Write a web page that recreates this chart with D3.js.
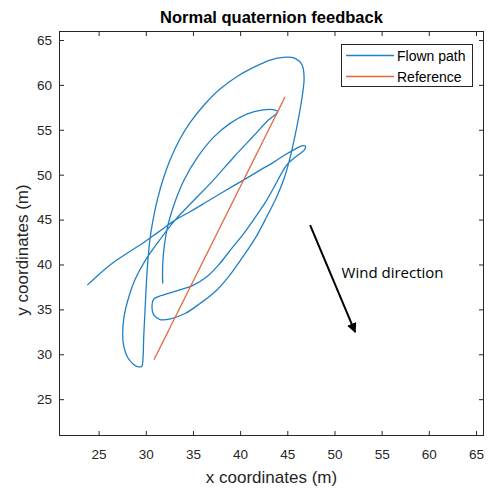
<!DOCTYPE html>
<html><head><meta charset="utf-8">
<script src="https://cdn.jsdelivr.net/npm/d3@7"></script>
<style>body{margin:0;background:#fff}svg{display:block}</style>
</head><body><svg id="c" width="492" height="489"></svg>
<script>
const title = "Normal quaternion feedback";
const xLabel = "x coordinates (m)";
const yLabel = "y coordinates (m)";
const xTicks = [25,30,35,40,45,50,55,60,65];
const yTicks = [25,30,35,40,45,50,55,60,65];
const xDomain = [20.8, 65.85];
const yDomain = [20.9, 66.0];
const seriesNames = ["Flown path","Reference"];
const flownX = [23.80,25.15,26.56,27.98,29.39,30.63,31.86,33.10,34.69,36.46,38.23,40.35,42.12,43.53,44.77,45.83,46.53,46.92,46.85,46.00,45.01,44.34,43.71,42.82,41.76,40.52,39.11,37.70,36.46,35.05,33.28,31.69,30.87,30.66,30.87,31.51,32.64,34.16,35.75,37.34,38.76,40.17,41.59,42.82,43.88,44.66,45.23,45.76,46.22,46.60,46.78,46.57,45.83,44.59,43.18,41.41,39.64,37.87,36.18,34.69,33.56,32.57,31.86,31.26,30.80,30.45,30.24,30.06,29.92,29.78,29.71,29.57,29.21,28.68,28.08,27.66,27.55,27.69,28.15,28.86,29.92,31.33,33.10,35.05,37.17,39.29,41.41,43.00,43.99,43.71,42.29,40.70,38.93,37.17,35.47,34.06,33.10,32.39,31.97,31.79,31.79];
const flownY = [37.70,39.00,40.22,41.23,42.16,43.08,44.01,44.94,45.87,46.98,48.10,49.40,50.51,51.37,52.22,52.85,53.22,53.19,52.82,52.07,51.18,50.07,48.84,47.17,45.50,43.64,41.79,39.93,38.63,37.70,37.07,36.55,36.18,35.47,34.36,33.87,33.95,34.54,35.66,36.96,38.63,40.67,42.90,45.31,47.54,49.58,51.63,54.04,56.46,58.87,60.73,62.21,62.95,63.07,62.77,61.95,60.91,59.54,57.76,55.79,53.86,51.63,49.58,47.36,45.13,42.90,40.67,37.89,34.91,31.94,29.71,28.67,28.60,28.90,29.64,30.90,32.31,34.17,36.21,38.33,40.41,42.53,44.94,47.10,49.40,51.92,54.30,56.08,57.01,57.20,57.20,56.75,55.71,54.15,51.92,49.40,46.98,44.57,42.16,39.93,37.89];
const refX = [30.87, 44.77];
const refY = [29.40, 58.68];
const windArrowX = [47.42, 52.19];
const windArrowY = [44.38, 32.46];
const windText = "Wind direction";
const windTextPos = [50.75, 38.55];

const svg = d3.select("#c");
const m = {l:59, r:484, t:31, b:436};
const x = d3.scaleLinear().domain(xDomain).range([m.l, m.r]);
const y = d3.scaleLinear().domain(yDomain).range([m.b, m.t]);
const axCol = "#262626";
const font = "'Liberation Sans', Arial, sans-serif";

svg.append("rect").attr("x",m.l).attr("y",m.t).attr("width",m.r-m.l).attr("height",m.b-m.t).attr("fill","#fff");

// data
const line = d3.line().x(d=>x(d[0])).y(d=>y(d[1])).curve(d3.curveCatmullRom.alpha(0.5));
const flown = flownX.map((v,i)=>[v, flownY[i]]);
const ref = refX.map((v,i)=>[v, refY[i]]);
const g = svg.append("g");
const blue = "#1f7fc6", orange = "#e0683a";
g.append("path").datum(flown).attr("d", line).attr("fill","none").attr("stroke",blue).attr("stroke-width",1.3).attr("stroke-linejoin","round");
g.append("path").datum(ref).attr("d", d3.line().x(d=>x(d[0])).y(d=>y(d[1]))).attr("fill","none").attr("stroke",orange).attr("stroke-width",1.3);

// axes
function styleAxis(sel){
  sel.select(".domain").remove();
  sel.selectAll(".tick line").attr("stroke",axCol).attr("stroke-width",1);
  sel.selectAll(".tick text").attr("fill",axCol).style("font-family",font).style("font-size","13.5px");
}
const tl = 5;
svg.append("g").attr("transform",`translate(0,${m.b})`).call(d3.axisBottom(x).tickValues(xTicks).tickSize(-tl).tickPadding(13).tickFormat(d3.format("d"))).call(styleAxis);
svg.append("g").attr("transform",`translate(0,${m.t})`).call(d3.axisTop(x).tickValues(xTicks).tickSize(-tl).tickFormat("")).call(styleAxis);
svg.append("g").attr("transform",`translate(${m.l},0)`).call(d3.axisLeft(y).tickValues(yTicks).tickSize(-tl).tickPadding(7).tickFormat(d3.format("d"))).call(styleAxis);
svg.append("g").attr("transform",`translate(${m.r},0)`).call(d3.axisRight(y).tickValues(yTicks).tickSize(-tl).tickFormat("")).call(styleAxis);
svg.append("rect").attr("x",m.l+0.5).attr("y",m.t+0.5).attr("width",m.r-m.l-1).attr("height",m.b-m.t-1).attr("fill","none").attr("stroke",axCol).attr("stroke-width",1);

// labels
svg.append("text").attr("x",(m.l+m.r)/2).attr("y",23).attr("text-anchor","middle").style("font-family",font).style("font-size","16.5px").style("font-weight","bold").attr("fill","#000").text(title);
svg.append("text").attr("x",(m.l+m.r)/2).attr("y",483).attr("text-anchor","middle").style("font-family",font).style("font-size","17px").attr("fill",axCol).text(xLabel);
svg.append("text").attr("transform",`translate(28,250) rotate(-90)`).attr("text-anchor","middle").style("font-family",font).style("font-size","17px").attr("fill",axCol).text(yLabel);

// legend
const lg = svg.append("g");
lg.append("rect").attr("x",341.5).attr("y",44.5).attr("width",131).attr("height",42).attr("fill","#fff").attr("stroke",axCol).attr("stroke-width",1);
const lcol = [blue, orange];
seriesNames.forEach((n,i)=>{
  const yy = 55.5 + i*21;
  lg.append("line").attr("x1",346).attr("x2",394).attr("y1",yy).attr("y2",yy).attr("stroke",lcol[i]).attr("stroke-width",1.3);
  lg.append("text").attr("x",397).attr("y",yy+5).style("font-family",font).style("font-size","14px").attr("fill","#000").text(n);
});

// wind annotation
const defs = svg.append("defs");
defs.append("marker").attr("id","ah").attr("viewBox","0 0 10 10").attr("refX",9).attr("refY",5).attr("markerWidth",5).attr("markerHeight",5).attr("orient","auto").attr("markerUnits","strokeWidth")
  .append("path").attr("d","M0,0 L10,5 L0,10 z").attr("fill","#000");
svg.append("line").attr("x1",x(windArrowX[0])).attr("y1",y(windArrowY[0])).attr("x2",x(windArrowX[1])).attr("y2",y(windArrowY[1])).attr("stroke","#000").attr("stroke-width",2).attr("marker-end","url(#ah)");
svg.append("text").attr("x",x(windTextPos[0])).attr("y",y(windTextPos[1])).style("font-family","'Open Sans', sans-serif").style("font-size","15px").attr("fill","#000").text(windText);
</script></body></html>
